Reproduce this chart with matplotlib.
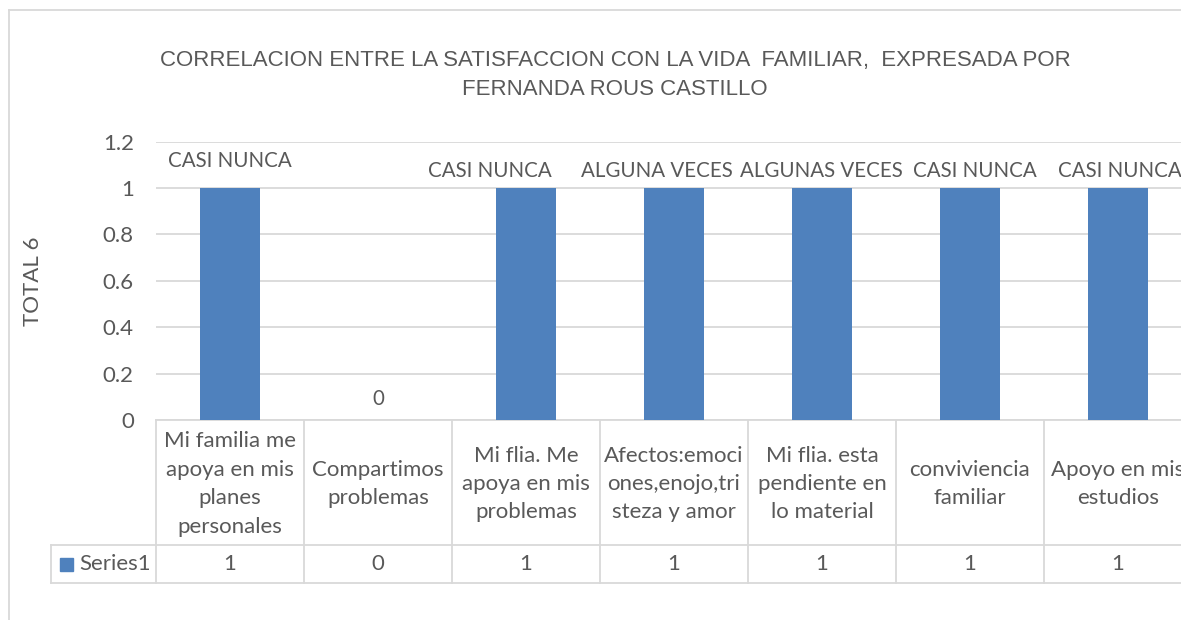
import matplotlib
matplotlib.use("Agg")
import matplotlib.pyplot as plt
from matplotlib import transforms, font_manager
from matplotlib.lines import Line2D
from matplotlib.patches import Rectangle

# =============================================================================
# data
# =============================================================================
categories = [
    "Mi familia me\napoya en mis\nplanes\npersonales",
    "Compartimos\nproblemas",
    "Mi flia. Me\napoya en mis\nproblemas",
    "Afectos:emoci\nones,enojo,tri\nsteza y amor",
    "Mi flia. esta\npendiente en\nlo material",
    "conviviencia\nfamiliar",
    "Apoyo en mis\nestudios",
]
values = [1, 0, 1, 1, 1, 1, 1]
point_labels = ["CASI NUNCA", "0", "CASI NUNCA", "ALGUNA VECES",
                "ALGUNAS VECES", "CASI NUNCA", "CASI NUNCA"]
series_name = "Series1"
title = ("CORRELACION ENTRE LA SATISFACCION CON LA VIDA  FAMILIAR,  EXPRESADA POR\n"
         "FERNANDA ROUS CASTILLO")
ylabel = "TOTAL 6"

# label nudges (pixels), the labels were moved by hand in the original
label_dx = [0, 0, -36, -17, -1, 5, 2]
label_dy = [17, 11, 7, 7, 7, 7, 7]

# =============================================================================
# style
# =============================================================================
W, H = 1181, 620
txt = "#595959"
grid = "#D9D9D9"
blue = "#4F81BD"
body = "Lato"
fs = 16

names = {f.name for f in font_manager.fontManager.ttflist}
if "Liberation Sans Narrow" in names:
    title_font, title_fs = "Liberation Sans Narrow", 18.5
else:
    title_font, title_fs = "Liberation Sans", 16

fig = plt.figure(figsize=(W / 100, H / 100), dpi=100)
fig.set_facecolor("w")

def fx(px):
    return px / W

def fy(py):
    return 1 - py / H

# plot area runs past the right edge like the original screenshot
ax = fig.add_axes([fx(156), fy(420), fx(7 * 148), (420 - 141.5) / H])
x = list(range(len(values)))
ax.bar(x, values, width=0.4, color=blue, zorder=3)
ax.set_xlim(-0.5, len(values) - 0.5)
ax.set_ylim(0, 1.2)
ax.set_yticks([0, 0.2, 0.4, 0.6, 0.8, 1.0, 1.2])
ax.set_yticklabels(["0", "0.2", "0.4", "0.6", "0.8", "1", "1.2"],
                   fontsize=fs, color=txt, family=body)
ax.tick_params(axis="y", length=0, pad=16)
ax.tick_params(axis="x", length=0, labelbottom=False)
ax.grid(axis="y", color=grid, linewidth=1.3, zorder=0)
for s in ["top", "right", "left"]:
    ax.spines[s].set_visible(False)
ax.spines["bottom"].set_color(grid)
ax.spines["bottom"].set_linewidth(1.3)

ax.set_ylabel(ylabel, fontsize=fs, color=txt, family=body, labelpad=43)

# data labels
for i, (v, lab) in enumerate(zip(values, point_labels)):
    ax.annotate(lab, (i, v), xytext=(label_dx[i] * 0.72, label_dy[i] * 0.72),
                textcoords="offset points", ha="center", va="bottom",
                fontsize=14.8, color=txt, family=body)

fig.text(fx(615), fy(75), title, ha="center", va="center", fontsize=title_fs,
         color=txt, family=title_font, linespacing=1.45)

# =============================================================================
# data table under the axis
# =============================================================================
tr = transforms.blended_transform_factory(ax.transData, fig.transFigure)
row1, row2 = fy(545), fy(583)
for i in range(len(values) + 1):
    ax.add_line(Line2D([i - 0.5, i - 0.5], [fy(420), row2], transform=tr,
                       color=grid, lw=1.3, clip_on=False))
for yy in (row1, row2):
    fig.add_artist(Line2D([fx(51), 1.02], [yy, yy], color=grid, lw=1.3))
fig.add_artist(Line2D([fx(51), fx(51)], [row1, row2], color=grid, lw=1.3))

for i, (c, v) in enumerate(zip(categories, values)):
    ax.text(i, fy(484), c, transform=tr, ha="center", va="center",
            fontsize=fs, color=txt, family=body, linespacing=1.53)
    ax.text(i, fy(564), str(v), transform=tr, ha="center", va="center",
            fontsize=fs, color=txt, family=body)

fig.add_artist(Rectangle((fx(60), fy(571)), fx(13), 13 / H, color=blue))
fig.text(fx(79), fy(564), series_name, ha="left", va="center",
         fontsize=fs, color=txt, family=body)

# chart border (cut off on the right and bottom)
fig.add_artist(Line2D([fx(9), fx(9)], [fy(10), 0], color=grid, lw=1.3))
fig.add_artist(Line2D([fx(9), 1], [fy(10), fy(10)], color=grid, lw=1.3))

plt.savefig("out.png", dpi=100)
